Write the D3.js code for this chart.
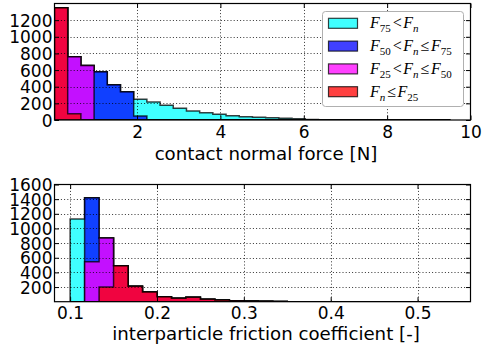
<!DOCTYPE html>
<html>
<head>
<meta charset="utf-8">
<script src="https://cdn.jsdelivr.net/npm/d3@7/dist/d3.min.js"></script>
<style>
  body { margin: 0; background: #fff; }
  svg text { font-family: "DejaVu Sans", sans-serif; font-size: 17px; fill: #000; }
</style>
</head>
<body>
<div id="chart"></div>
<script>
// ---- contact normal force histograms (counts per bin, one array per quartile group)
const forceBinStart = 0.02;
const forceBinWidth = 0.3166;
const forceCyan = [0, 0, 0, 0, 0, 0, 200, 216, 178, 140, 108, 88, 70, 52, 40, 32, 26, 20, 14, 6, 4, 3, 2, 2, 1, 1, 1, 0, 1, 0];
const forceBlue = [0, 0, 0, 580, 424, 340, 48, 0, 0, 0, 0, 0, 0, 0, 0, 0, 0, 0, 0, 0, 0, 0, 0, 0, 0, 0, 0, 0, 0, 0];
const forceMagenta = [0, 685, 655, 0, 0, 0, 0, 0, 0, 0, 0, 0, 0, 0, 0, 0, 0, 0, 0, 0, 0, 0, 0, 0, 0, 0, 0, 0, 0, 0];
const forceRed = [1350, 75, 0, 0, 0, 0, 0, 0, 0, 0, 0, 0, 0, 0, 0, 0, 0, 0, 0, 0, 0, 0, 0, 0, 0, 0, 0, 0, 0, 0];
const forceXTicks = [2, 4, 6, 8, 10];
const forceYTicks = [0, 200, 400, 600, 800, 1000, 1200];

// ---- interparticle friction coefficient histograms
const fricBinStart = 0.1;
const fricBinWidth = 1 / 60;
const fricCyan = [1130, 0, 0, 0, 0, 0, 0, 0, 0, 0, 0, 0, 0, 0, 0, 0, 0, 0, 0, 0, 0, 0, 0, 0, 0, 0, 0, 0];
const fricBlue = [0, 875, 0, 0, 0, 0, 0, 0, 0, 0, 0, 0, 0, 0, 0, 0, 0, 0, 0, 0, 0, 0, 0, 0, 0, 0, 0, 0];
const fricMagenta = [0, 545, 670, 0, 0, 0, 0, 0, 0, 0, 0, 0, 0, 0, 0, 0, 0, 0, 0, 0, 0, 0, 0, 0, 0, 0, 0, 0];
const fricRed = [0, 0, 200, 490, 210, 134, 68, 48, 60, 33, 23, 14, 10, 6, 3, 0, 0, 0, 0, 0, 0, 0, 0, 0, 0, 0, 0, 0];
const fricXTicks = [0.1, 0.2, 0.3, 0.4, 0.5];
const fricYTicks = [200, 400, 600, 800, 1000, 1200, 1400, 1600];

// group order: highest force first, it is drawn first and sits under the others
const groupColors = ["#00ffff", "#0000ff", "#ff00ff", "#ff0000"];
const legendLabels = [
  [["F", "it"], ["75", "sub"], ["<", "rel"], ["F", "it"], ["n", "itsub"]],
  [["F", "it"], ["50", "sub"], ["<", "rel"], ["F", "it"], ["n", "itsub"], ["≤", "rel"], ["F", "it"], ["75", "sub"]],
  [["F", "it"], ["25", "sub"], ["<", "rel"], ["F", "it"], ["n", "itsub"], ["≤", "rel"], ["F", "it"], ["50", "sub"]],
  [["F", "it"], ["n", "itsub"], ["≤", "rel"], ["F", "it"], ["25", "sub"]]
];

const W = 483, H = 347;
const svg = d3.select("#chart").append("svg")
  .attr("width", W)
  .attr("height", H);

// stepfilled histograms: each group's polygon starts at zero and reaches the
// count of that group plus all lower-force groups
function drawPanel(opts) {
  const { left, right, top, bottom, xDomain, yDomain, start, width, groups,
    xTicks, yTicks, xFormat, xLabel, xTickY, xLabelY, id } = opts;

  const x = d3.scaleLinear().domain(xDomain).range([left, right]);
  const y = d3.scaleLinear().domain(yDomain).range([bottom, top]);

  svg.append("clipPath").attr("id", id)
    .append("rect")
    .attr("x", left).attr("y", top)
    .attr("width", right - left).attr("height", bottom - top);

  const g = svg.append("g").attr("clip-path", "url(#" + id + ")");
  const n = groups[0].length;
  const edges = d3.range(n + 1).map(i => start + i * width);

  const area = d3.area()
    .x(d => x(d[0]))
    .y0(y(0))
    .y1(d => y(d[1]))
    .curve(d3.curveStepAfter);

  groups.forEach((_, gi) => {
    const tops = d3.range(n).map(i => d3.sum(groups.slice(gi), arr => arr[i]));
    const pts = tops.map((v, i) => [edges[i], v]);
    pts.push([edges[n], tops[n - 1]]);
    g.append("path")
      .attr("d", area(pts) + "Z")
      .attr("fill", groupColors[gi])
      .attr("fill-opacity", 0.75)
      .attr("stroke", "#000")
      .attr("stroke-opacity", 0.75)
      .attr("stroke-width", 1.5)
      .attr("stroke-linejoin", "miter");
  });

  // dotted grid, drawn over the bars
  const grid = svg.append("g")
    .attr("stroke", "#000")
    .attr("stroke-width", 1)
    .attr("stroke-dasharray", "1,2.2")
    .attr("stroke-opacity", 0.8);
  grid.selectAll(".gx")
    .data(xTicks.filter(t => x(t) > left + 1 && x(t) < right - 1))
    .enter().append("line")
    .attr("x1", d => Math.round(x(d)) + 0.5).attr("x2", d => Math.round(x(d)) + 0.5)
    .attr("y1", top).attr("y2", bottom);
  grid.selectAll(".gy")
    .data(yTicks.filter(t => y(t) > top + 1 && y(t) < bottom - 1))
    .enter().append("line")
    .attr("y1", d => Math.round(y(d)) + 0.5).attr("y2", d => Math.round(y(d)) + 0.5)
    .attr("x1", left).attr("x2", right);

  // tick marks point inward on all four sides
  const tickLen = 4.5;
  const axB = svg.append("g").attr("transform", "translate(0," + bottom + ")")
    .call(d3.axisBottom(x).tickValues(xTicks).tickFormat(xFormat)
      .tickSizeInner(-tickLen).tickSizeOuter(0).tickPadding(0));
  axB.selectAll("text").attr("dy", null).attr("y", xTickY);
  const axT = svg.append("g").attr("transform", "translate(0," + top + ")")
    .call(d3.axisTop(x).tickValues(xTicks).tickFormat("")
      .tickSizeInner(-tickLen).tickSizeOuter(0));
  const axL = svg.append("g").attr("transform", "translate(" + left + ",0)")
    .call(d3.axisLeft(y).tickValues(yTicks).tickFormat(d3.format("d"))
      .tickSizeInner(-tickLen).tickSizeOuter(0).tickPadding(2));
  axL.selectAll("text").attr("dy", "0.36em");
  const axR = svg.append("g").attr("transform", "translate(" + right + ",0)")
    .call(d3.axisRight(y).tickValues(yTicks).tickFormat("")
      .tickSizeInner(-tickLen).tickSizeOuter(0));
  [axB, axT, axL, axR].forEach(a => {
    a.select(".domain").remove();
    a.selectAll("line").attr("stroke", "#000").attr("stroke-width", 1);
    a.selectAll("text").style("font-size", "17px").attr("fill", "#000");
  });

  // frame
  svg.append("rect")
    .attr("x", left).attr("y", top)
    .attr("width", right - left).attr("height", bottom - top)
    .attr("fill", "none")
    .attr("stroke", "#000")
    .attr("stroke-width", 1.2);

  svg.append("text")
    .attr("x", 266)
    .attr("y", xLabelY)
    .attr("text-anchor", "middle")
    .style("font-size", "18.2px")
    .text(xLabel);

  return { x, y };
}

drawPanel({
  id: "clipForce",
  left: 54.5, right: 470.5, top: 3.5, bottom: 120,
  xDomain: [0.02, 10], yDomain: [0, 1400],
  start: forceBinStart, width: forceBinWidth,
  groups: [forceCyan, forceBlue, forceMagenta, forceRed],
  xTicks: forceXTicks, yTicks: forceYTicks, xFormat: d3.format("d"),
  xLabel: "contact normal force [N]", xTickY: 18, xLabelY: 160
});

drawPanel({
  id: "clipFric",
  left: 54.5, right: 470.5, top: 184.5, bottom: 301.7,
  xDomain: [0.082, 0.561], yDomain: [0, 1600],
  start: fricBinStart, width: fricBinWidth,
  groups: [fricCyan, fricBlue, fricMagenta, fricRed],
  xTicks: fricXTicks, yTicks: fricYTicks, xFormat: d3.format(".1f"),
  xLabel: "interparticle friction coefficient [-]", xTickY: 17.5, xLabelY: 340
});

// legend
const leg = svg.append("g");
leg.append("rect")
  .attr("x", 322.5).attr("y", 11.5)
  .attr("width", 141).attr("height", 95)
  .attr("rx", 3)
  .attr("fill", "#fff")
  .attr("stroke", "#b0b0b0")
  .attr("stroke-width", 1);

legendLabels.forEach((parts, i) => {
  const cy = 23.3 + i * 22.8;
  leg.append("rect")
    .attr("x", 328.5).attr("y", cy - 5)
    .attr("width", 29).attr("height", 10)
    .attr("fill", groupColors[i])
    .attr("fill-opacity", 0.75)
    .attr("stroke", "#000")
    .attr("stroke-opacity", 0.75)
    .attr("stroke-width", 1.2);

  const t = leg.append("text")
    .attr("x", 370)
    .attr("y", cy + 5)
    .style("font-family", "'Liberation Serif', 'DejaVu Serif', serif")
    .style("font-size", "16px");
  let shift = 0;
  parts.forEach(([s, kind]) => {
    const sub = kind === "sub" || kind === "itsub";
    const target = sub ? 4 : 0;
    const span = t.append("tspan")
      .text(s)
      .attr("dy", target - shift)
      .style("font-size", sub ? "11px" : "16px")
      .style("font-style", kind === "it" || kind === "itsub" ? "italic" : "normal");
    if (kind === "rel") span.attr("dx", 2);
    if (kind === "it" && span.node().previousSibling && span.node().previousSibling.textContent.match(/[<≤]/)) span.attr("dx", 1.5);
    shift = target;
  });
});
</script>
</body>
</html>
